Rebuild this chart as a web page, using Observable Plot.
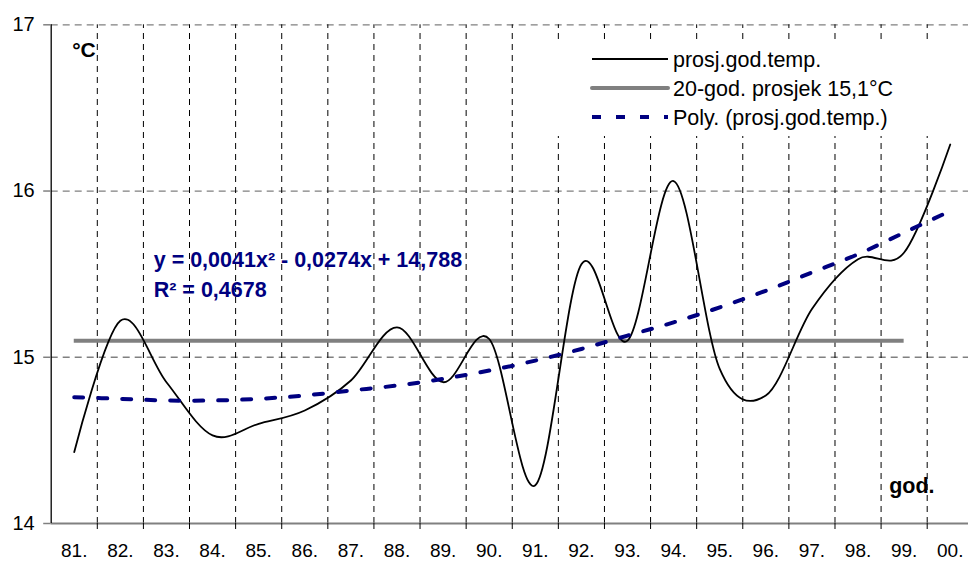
<!DOCTYPE html>
<html>
<head>
<meta charset="utf-8">
<script src="https://cdn.jsdelivr.net/npm/d3@7"></script>
<script src="https://cdn.jsdelivr.net/npm/@observablehq/plot@0.6"></script>
<style>
  html, body { margin: 0; padding: 0; background: #fff; }
</style>
</head>
<body>
<div id="chart"></div>
<script>
// ---- data ----
const years = ["81.","82.","83.","84.","85.","86.","87.","88.","89.","90.",
               "91.","92.","93.","94.","95.","96.","97.","98.","99.","00."];
const temps = [14.43, 15.22, 14.85, 14.53, 14.60, 14.68, 14.86, 15.18, 14.85, 15.11,
               14.23, 15.56, 15.10, 16.06, 14.93, 14.77, 15.29, 15.59, 15.63, 16.28];
const trend = [14.76, 14.75, 14.74, 14.74, 14.75, 14.77, 14.80, 14.83, 14.87, 14.92,
               14.98, 15.05, 15.13, 15.21, 15.30, 15.40, 15.51, 15.62, 15.75, 15.88];
const average = 15.1;
const avgFrom = "81.", avgTo = "99.";
const yTicks = [14, 15, 16, 17];
const legendLabels = ["prosj.god.temp.", "20-god. prosjek 15,1°C", "Poly. (prosj.god.temp.)"];
const equationLines = ["y = 0,0041x² - 0,0274x + 14,788", "R² = 0,4678"];
const yUnit = "°C";
const xUnit = "god.";

// ---- derived ----
const idx = years.map((d, i) => i + 1);
const bounds = idx.slice(0, -1).map(i => i + 0.5);
const tempRows = temps.map((v, i) => ({x: i + 1, y: v}));
const trendRows = trend.map((v, i) => ({x: i + 1, y: v}));
const avgX1 = years.indexOf(avgFrom) + 1, avgX2 = years.indexOf(avgTo) + 1;

const FONT = "'Liberation Sans', Arial, sans-serif";
const gray = "#808080", navy = "#000080";

const plot = Plot.plot({
  width: 968,
  height: 563,
  marginLeft: 50.7,
  marginRight: 0,
  marginTop: 24.3,
  marginBottom: 40,
  style: {fontFamily: FONT, fontSize: "20px", background: "#fff", color: "black"},
  x: {type: "linear", domain: [0.5, 20.5], range: [50.7, 972.8], axis: null},
  y: {domain: [14, 17], axis: null},
  marks: [
    // horizontal dashed grid
    Plot.ruleY([15, 16, 17], {stroke: gray, strokeWidth: 1.3, strokeDasharray: "7,5"}),
    // vertical dashed grid
    Plot.ruleX(bounds, {y1: 14, y2: 17, stroke: "black", strokeWidth: 1, strokeDasharray: "6,5"}),
    // x axis line
    Plot.ruleY([14], {stroke: gray, strokeWidth: 2}),
    // y axis line
    Plot.ruleX([0.5], {y1: 14, y2: 17, stroke: "black", strokeWidth: 1.3}),
    Plot.axisY({ticks: yTicks, tickSize: 7.5, tickPadding: 9, tickFormat: d => String(d), label: null,
      stroke: gray, strokeWidth: 1.5, fill: "black", fontSize: 20}),
    Plot.axisX({ticks: bounds, tickSize: 6, tickFormat: () => "", label: null, stroke: "black"}),
    Plot.axisX({ticks: idx, tickSize: 0, tickPadding: 20, tickFormat: i => years[i - 1], label: null,
      fill: "black", fontSize: 19}),
    // average
    Plot.ruleY([average], {x1: avgX1, x2: avgX2, stroke: gray, strokeWidth: 4}),
    // annual temperature
    Plot.line(tempRows, {x: "x", y: "y", curve: "cardinal", stroke: "black", strokeWidth: 1.8}),
    // polynomial trend
    Plot.line(trendRows, {x: "x", y: "y", curve: "cardinal", stroke: navy, strokeWidth: 4, strokeDasharray: "9,15"}),
    // annotations
    Plot.text([equationLines[0]], {frameAnchor: "top-left", dx: 102.5, dy: 235.5, lineAnchor: "middle",
      textAnchor: "start", fill: navy, fontWeight: "bold", fontSize: 21.5}),
    Plot.text([equationLines[1]], {frameAnchor: "top-left", dx: 102.5, dy: 265, lineAnchor: "middle",
      textAnchor: "start", fill: navy, fontWeight: "bold", fontSize: 21.5}),
    Plot.text([yUnit], {frameAnchor: "top-left", dx: 21, dy: 25.5, lineAnchor: "middle",
      textAnchor: "start", fontWeight: "bold", fontSize: 21}),
    Plot.text([xUnit], {frameAnchor: "top-left", dx: 838, dy: 461.5, lineAnchor: "middle",
      textAnchor: "start", fontWeight: "bold", fontSize: 21.5})
  ]
});

// legend inside the plot area (top right)
const svg = d3.select(plot);
const lg = svg.append("g").attr("font-family", FONT).attr("font-size", 21.5).attr("text-anchor", "start");
lg.append("rect").attr("x", 535).attr("y", 43).attr("width", 440).attr("height", 93).attr("fill", "white");
const styles = [
  {stroke: "black", w: 1.8, dash: null},
  {stroke: gray, w: 4, dash: null},
  {stroke: navy, w: 4, dash: "9,15"}
];
legendLabels.forEach((lab, i) => {
  const cy = 59 + i * 29;
  const s = styles[i];
  const ln = lg.append("line").attr("x1", 592).attr("x2", 668).attr("y1", cy).attr("y2", cy)
    .attr("stroke", s.stroke).attr("stroke-width", s.w);
  if (s.dash) ln.attr("stroke-dasharray", s.dash);
  if (i === 1) ln.attr("stroke-linecap", "round");
  lg.append("text").attr("x", 673).attr("y", cy).attr("dy", "0.35em").attr("fill", "black")
    .attr("text-anchor", "start").text(lab);
});

document.getElementById("chart").appendChild(plot);
</script>
</body>
</html>
